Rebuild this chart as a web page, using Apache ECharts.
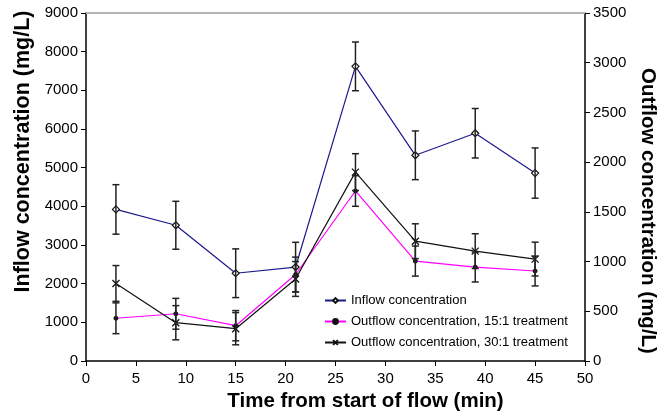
<!DOCTYPE html>
<html>
<head>
<meta charset="utf-8">
<script src="https://cdn.jsdelivr.net/npm/echarts@6/dist/echarts.min.js"></script>
<style>
  html, body { margin: 0; padding: 0; background: #fff; }
  #chart { width: 663px; height: 414px; }
</style>
</head>
<body>
<div id="chart"></div>
<script>
// sampling times (min)
const times = [3, 9, 15, 21, 27, 33, 39, 45]
// inflow concentration (left axis, mg/L) and its error
const inflow = [3920, 3510, 2270, 2430, 7620, 5320, 5890, 4860]
const inflowErr = [640, 620, 630, 640, 630, 630, 640, 650]
// outflow 15:1 treatment (right axis, mg/L)
const out15 = [430, 475, 355, 870, 1710, 1005, 945, 905]
const out15Err = [155, 155, 152, 175, 154, 151, 150, 150]
// outflow 30:1 treatment (right axis, mg/L)
const out30 = [780, 385, 325, 825, 1900, 1205, 1105, 1025]
const out30Err = [180, 172, 162, 175, 185, 175, 175, 170]

const FONT = 'Liberation Sans'

const pairs = (vals) => times.map((t, i) => [t, vals[i]])
const bars = (vals, errs) => times.map((t, i) => [t, vals[i] - errs[i], vals[i] + errs[i]])

// error bar drawn through the axis scales
const renderErr = (params, api) => {
  const x = api.value(0)
  const top = api.coord([x, api.value(2)])
  const bot = api.coord([x, api.value(1)])
  const w = 3.5
  const style = { stroke: '#222', lineWidth: 1.5 }
  return {
    type: 'group',
    children: [
      { type: 'line', shape: { x1: top[0], y1: top[1], x2: bot[0], y2: bot[1] }, style },
      { type: 'line', shape: { x1: top[0] - w, y1: top[1], x2: top[0] + w, y2: top[1] }, style },
      { type: 'line', shape: { x1: bot[0] - w, y1: bot[1], x2: bot[0] + w, y2: bot[1] }, style }
    ]
  }
}

const plain = (v) => String(v)

const chart = echarts.init(document.getElementById('chart'))

const option = {
  animation: false,
  textStyle: { fontFamily: FONT },
  grid: { left: 86, right: 78, top: 13, bottom: 53, outerBoundsMode: 'none', containLabel: false },
  legend: {
    orient: 'vertical',
    left: 319,
    top: 289,
    itemWidth: 21,
    itemHeight: 6,
    itemGap: 8,
    textStyle: { fontFamily: FONT, fontSize: 13, color: '#000' },
    data: ['Inflow concentration', 'Outflow concentration, 15:1 treatment', 'Outflow concentration, 30:1 treatment']
  },
  xAxis: [
    {
      type: 'value',
      min: 0,
      max: 50,
      interval: 5,
      name: 'Time from start of flow (min)',
      nameLocation: 'middle',
      nameGap: 23,
      nameTextStyle: { fontFamily: FONT, fontSize: 20.5, fontWeight: 'bold', color: '#000', padding: [0, 0, 0, 60] },
      axisLine: { lineStyle: { color: '#000', width: 1.5 } },
      axisTick: { length: 5, lineStyle: { color: '#000' } },
      axisLabel: { fontFamily: FONT, fontSize: 15, color: '#000', margin: 10, formatter: plain },
      splitLine: { show: false }
    },
    {
      type: 'value',
      position: 'top',
      min: 0,
      max: 50,
      axisLine: { onZero: false, lineStyle: { color: '#b4b4b4', width: 2 } },
      axisTick: { show: false },
      axisLabel: { show: false },
      splitLine: { show: false }
    }
  ],
  yAxis: [
    {
      type: 'value',
      min: 0,
      max: 9000,
      interval: 1000,
      name: 'Inflow concentration (mg/L)',
      nameLocation: 'middle',
      nameGap: 51,
      nameRotate: 90,
      nameTextStyle: { fontFamily: FONT, fontSize: 21.5, fontWeight: 'bold', color: '#000', padding: [0, 0, 0, 71] },
      axisLine: { show: true, onZero: false, lineStyle: { color: '#000', width: 1.5 } },
      axisTick: { show: true, length: 5, lineStyle: { color: '#000' } },
      axisLabel: { fontFamily: FONT, fontSize: 15, color: '#000', margin: 8, formatter: plain },
      splitLine: { show: false }
    },
    {
      type: 'value',
      min: 0,
      max: 3500,
      interval: 500,
      position: 'right',
      name: 'Outflow concentration (mg/L)',
      nameLocation: 'middle',
      nameGap: 50,
      nameRotate: -90,
      nameTextStyle: { fontFamily: FONT, fontSize: 20.5, fontWeight: 'bold', color: '#000', padding: [0, 0, 0, 48] },
      axisLine: { show: true, onZero: false, lineStyle: { color: '#000', width: 1.5 } },
      axisTick: { show: true, length: 5, lineStyle: { color: '#000' } },
      axisLabel: { fontFamily: FONT, fontSize: 15, color: '#000', margin: 8, formatter: plain },
      splitLine: { show: false }
    }
  ],
  series: [
    {
      name: 'Inflow concentration',
      type: 'line',
      yAxisIndex: 0,
      data: pairs(inflow),
      symbol: 'diamond',
      symbolSize: 7,
      lineStyle: { color: '#1a1a8c', width: 1.2 },
      itemStyle: { color: '#fff', borderColor: '#111', borderWidth: 1.2 },
      z: 3
    },
    {
      name: 'Outflow concentration, 15:1 treatment',
      type: 'line',
      yAxisIndex: 1,
      data: pairs(out15),
      symbol: 'circle',
      symbolSize: 4,
      lineStyle: { color: '#ff00ff', width: 1.2 },
      itemStyle: { color: '#111', borderColor: '#111', borderWidth: 1 },
      z: 3
    },
    {
      name: 'Outflow concentration, 30:1 treatment',
      type: 'line',
      yAxisIndex: 1,
      data: pairs(out30),
      symbol: 'path://M0,0L10,10M10,0L0,10',
      symbolSize: 7,
      lineStyle: { color: '#111', width: 1.2 },
      itemStyle: { color: 'none', borderColor: '#111', borderWidth: 1.3 },
      z: 3
    },
    {
      type: 'custom',
      yAxisIndex: 0,
      renderItem: renderErr,
      encode: { x: 0, y: [1, 2] },
      data: bars(inflow, inflowErr),
      silent: true,
      z: 4
    },
    {
      type: 'custom',
      yAxisIndex: 1,
      renderItem: renderErr,
      encode: { x: 0, y: [1, 2] },
      data: bars(out15, out15Err),
      silent: true,
      z: 4
    },
    {
      type: 'custom',
      yAxisIndex: 1,
      renderItem: renderErr,
      encode: { x: 0, y: [1, 2] },
      data: bars(out30, out30Err),
      silent: true,
      z: 4
    }
  ]
}

chart.setOption(option)
</script>
</body>
</html>
